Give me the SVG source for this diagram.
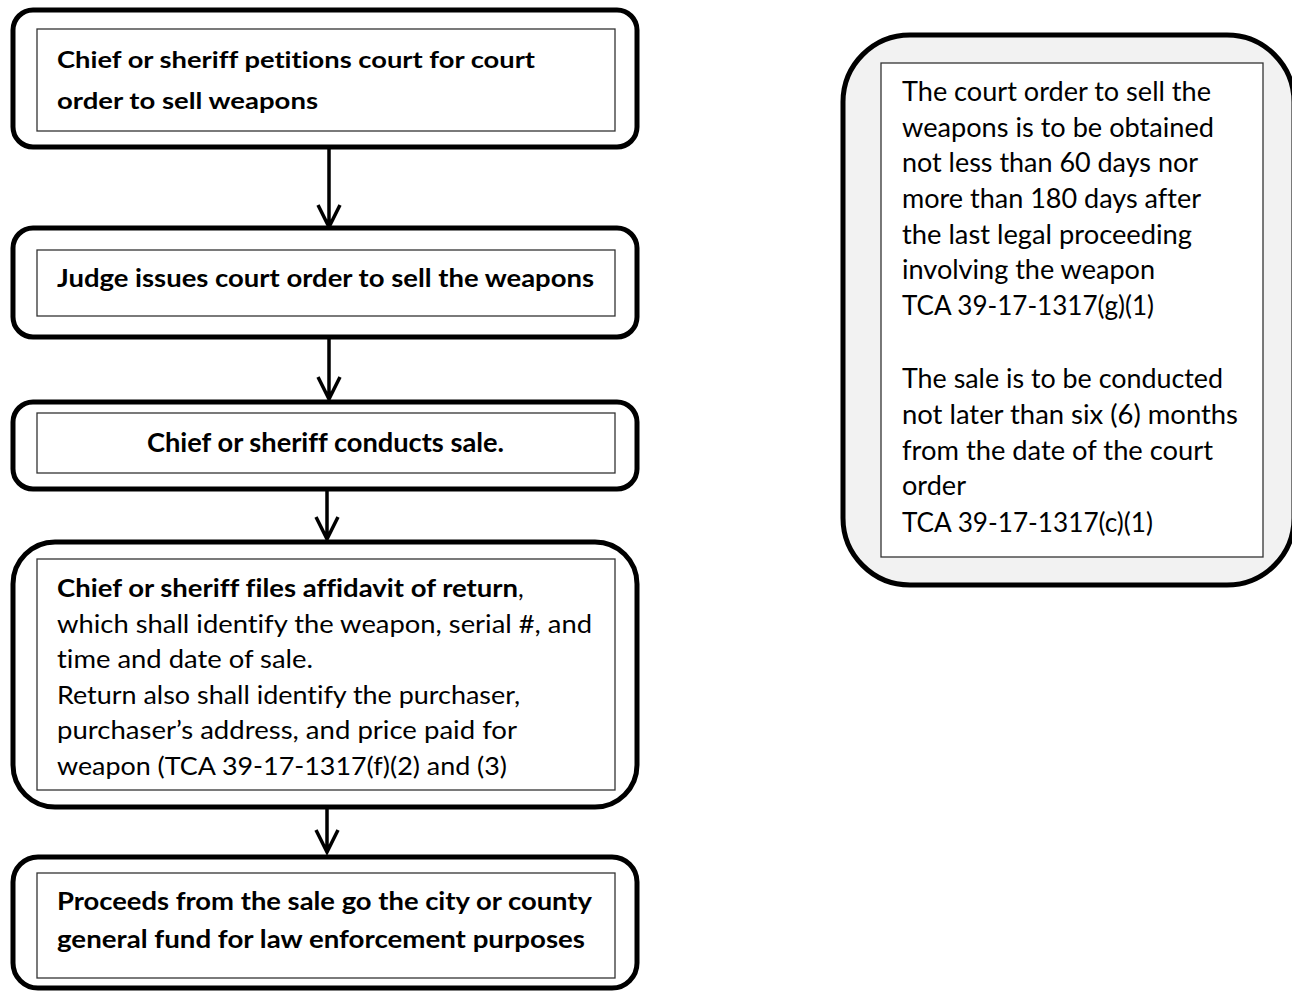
<svg xmlns="http://www.w3.org/2000/svg" width="1292" height="991" viewBox="0 0 1292 991">
<defs>
<style>
.outer{fill:#ffffff;stroke:#000000;stroke-width:5}
.outerg{fill:#f2f2f2;stroke:#000000;stroke-width:5}
.inner{fill:#ffffff;stroke:#333333;stroke-width:1.3}
.t{font-family:Lato,"Open Sans","Liberation Sans",sans-serif;fill:#000000;font-variant-ligatures:none;font-feature-settings:"liga" 0}
.b{font-weight:bold}
.conn{fill:none;stroke:#000000;stroke-width:3.5;stroke-linejoin:miter}
</style>
</defs>
<rect width="1292" height="991" fill="#ffffff"/>
<g id="connectors">
<path class="conn" d="M329,147 V227 M318,205 L329,227 L340,205"/>
<path class="conn" d="M329,337 V399 M318,377 L329,399 L340,377"/>
<path class="conn" d="M327,489 V539 M316,517 L327,539 L338,517"/>
<path class="conn" d="M327,807 V852 M316,830 L327,852 L338,830"/>
</g>
<g id="node1">
<rect class="outer" x="13" y="10" width="624" height="137" rx="20"/>
<rect class="inner" x="37" y="29" width="578" height="102"/>
<text class="t b" x="57" y="68" font-size="23" textLength="478" lengthAdjust="spacingAndGlyphs">Chief or sheriff petitions court for court</text>
<text class="t b" x="57" y="109" font-size="23" textLength="261" lengthAdjust="spacingAndGlyphs">order to sell weapons</text>
</g>
<g id="node2">
<rect class="outer" x="13" y="228" width="624" height="109" rx="20"/>
<rect class="inner" x="37" y="250" width="578" height="66"/>
<text class="t b" x="57" y="287" font-size="25" textLength="537" lengthAdjust="spacingAndGlyphs">Judge issues court order to sell the weapons</text>
</g>
<g id="node3">
<rect class="outer" x="13" y="402" width="624" height="87" rx="20"/>
<rect class="inner" x="37" y="413" width="578" height="60"/>
<text class="t b" x="147" y="452" font-size="27" textLength="357" lengthAdjust="spacingAndGlyphs">Chief or sheriff conducts sale.</text>
</g>
<g id="node4">
<rect class="outer" x="13" y="542" width="624" height="265" rx="42"/>
<rect class="inner" x="37" y="559" width="578" height="231"/>
<text class="t b" x="57" y="597" font-size="25" textLength="461" lengthAdjust="spacingAndGlyphs">Chief or sheriff files affidavit of return</text>
<text class="t" x="518" y="597" font-size="25">,</text>
<text class="t" x="57" y="632.6" font-size="25" textLength="535" lengthAdjust="spacingAndGlyphs">which shall identify the weapon, serial #, and</text>
<text class="t" x="57" y="668.2" font-size="25" textLength="256" lengthAdjust="spacingAndGlyphs">time and date of sale.</text>
<text class="t" x="57" y="703.8" font-size="25" textLength="463" lengthAdjust="spacingAndGlyphs">Return also shall identify the purchaser,</text>
<text class="t" x="57" y="739.4" font-size="25" textLength="460" lengthAdjust="spacingAndGlyphs">purchaser’s address, and price paid for</text>
<text class="t" x="57" y="775" font-size="25" textLength="450" lengthAdjust="spacingAndGlyphs">weapon (TCA 39-17-1317(f)(2) and (3)</text>
</g>
<g id="node5">
<rect class="outer" x="13" y="857" width="624" height="131" rx="25"/>
<rect class="inner" x="37" y="873" width="578" height="105"/>
<text class="t b" x="57" y="910" font-size="25.5" textLength="535" lengthAdjust="spacingAndGlyphs">Proceeds from the sale go the city or county</text>
<text class="t b" x="57" y="948" font-size="25.5" textLength="528" lengthAdjust="spacingAndGlyphs">general fund for law enforcement purposes</text>
</g>
<g id="note">
<rect class="outerg" x="843" y="35" width="451" height="550" rx="67"/>
<rect class="inner" x="881" y="63" width="382" height="494"/>
<text class="t" x="902" y="101" font-size="26" textLength="309" lengthAdjust="spacingAndGlyphs">The court order to sell the</text>
<text class="t" x="902" y="137" font-size="26" textLength="312" lengthAdjust="spacingAndGlyphs">weapons is to be obtained</text>
<text class="t" x="902" y="172" font-size="26" textLength="296" lengthAdjust="spacingAndGlyphs">not less than 60 days nor</text>
<text class="t" x="902" y="208" font-size="26" textLength="299" lengthAdjust="spacingAndGlyphs">more than 180 days after</text>
<text class="t" x="902" y="244" font-size="26" textLength="290" lengthAdjust="spacingAndGlyphs">the last legal proceeding</text>
<text class="t" x="902" y="279" font-size="26" textLength="253" lengthAdjust="spacingAndGlyphs">involving the weapon</text>
<text class="t" x="902" y="315" font-size="26" textLength="252" lengthAdjust="spacingAndGlyphs">TCA 39-17-1317(g)(1)</text>
<text class="t" x="902" y="388" font-size="26" textLength="321" lengthAdjust="spacingAndGlyphs">The sale is to be conducted</text>
<text class="t" x="902" y="424" font-size="26" textLength="336" lengthAdjust="spacingAndGlyphs">not later than six (6) months</text>
<text class="t" x="902" y="460" font-size="26" textLength="311" lengthAdjust="spacingAndGlyphs">from the date of the court</text>
<text class="t" x="902" y="495" font-size="26" textLength="64" lengthAdjust="spacingAndGlyphs">order</text>
<text class="t" x="902" y="532" font-size="26" textLength="251" lengthAdjust="spacingAndGlyphs">TCA 39-17-1317(c)(1)</text>
</g>
</svg>
